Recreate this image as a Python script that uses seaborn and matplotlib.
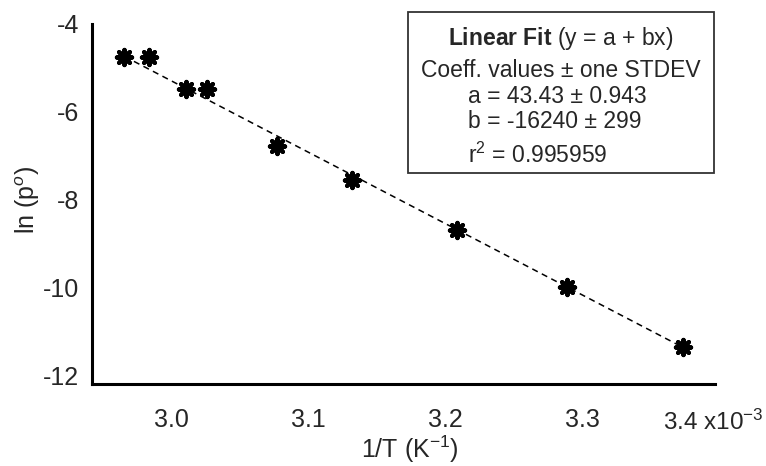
import numpy as np
import matplotlib
matplotlib.use("Agg")
import matplotlib.pyplot as plt
from matplotlib.patches import Rectangle
import seaborn as sns

# --- data (1/T in units of 1e-3 K^-1, ln p) ---
inv_T = [2.966, 2.984, 3.011, 3.026, 3.077, 3.132, 3.209, 3.289, 3.374]
ln_p = [-4.74, -4.74, -5.47, -5.47, -6.77, -7.54, -8.68, -9.98, -11.35]

# fit coefficients from the box
FIT_A = 43.43
FIT_B = -16240
x_ticks = [3.0, 3.1, 3.2, 3.3]
y_ticks = [-4, -6, -8, -10, -12]

W, H = 766, 466
FS = 18
FS_BOX = 16.5


def fx(px):
    return px / W


def fy(py):
    return 1 - py / H


sns.set_style("white")
plt.rcParams["font.family"] = ["Liberation Sans", "DejaVu Sans"]
plt.rcParams["axes.unicode_minus"] = False
plt.rcParams["mathtext.fontset"] = "custom"
plt.rcParams["mathtext.rm"] = "Liberation Sans"
plt.rcParams["mathtext.it"] = "Liberation Sans:italic"
plt.rcParams["mathtext.bf"] = "Liberation Sans:bold"

fig = plt.figure(figsize=(W / 100, H / 100), dpi=100)
ax = fig.add_axes([fx(92), fy(384), (715 - 92) / W, (384 - 24) / H])

# fit line over data range
x_fit = np.array([min(inv_T), max(inv_T)])
y_fit = FIT_A + FIT_B * x_fit * 1e-3
sns.lineplot(x=x_fit, y=y_fit, ax=ax, color="black", lw=1.1)
ax.lines[-1].set_dashes((4, 3))

sns.scatterplot(x=inv_T, y=ln_p, ax=ax, marker=(8, 2, 0), s=120,
                color="black", linewidth=3.0, zorder=3)

ax.set_xlim(2.9423, 3.397)
ax.set_ylim(-12.19, -4)
ax.set_xticks(x_ticks)
ax.set_xticklabels([f"{v:.1f}" for v in x_ticks])
ax.set_yticks(y_ticks)
ax.tick_params(axis="both", length=0, labelsize=FS)
ax.tick_params(axis="x", pad=17)
ax.tick_params(axis="y", pad=9)

sns.despine(ax=ax)
for s in ["left", "bottom"]:
    ax.spines[s].set_linewidth(2.2)
    ax.spines[s].set_color("black")

ax.set_xlabel("1/T (K$^{-1}$)", fontsize=FS)
ax.set_ylabel("ln (p$^{o}$)", fontsize=FS)
ax.xaxis.set_label_coords((410 - 92) / 623, (384 - 434) / 360)
ax.yaxis.set_label_coords((42 - 92) / 623, 0.51)

fig.text(fx(663), fy(430), "3.4 x10$^{-3}$", fontsize=FS - 0.5, va="baseline", ha="left")

# fit result box
fig.patches.append(Rectangle((fx(408), fy(173)), (714 - 408) / W, (173 - 12) / H,
                             transform=fig.transFigure, fill=False,
                             edgecolor="#333333", lw=1.3))
fig.text(fx(561), fy(45), r"$\mathbf{Linear\ Fit}$ (y = a + bx)", fontsize=FS_BOX,
         ha="center", va="baseline")
fig.text(fx(421), fy(77), "Coeff. values \u00b1 one STDEV", fontsize=FS_BOX,
         ha="left", va="baseline")
fig.text(fx(468), fy(103), f"a = {FIT_A:.2f} \u00b1 0.943", fontsize=FS_BOX,
         ha="left", va="baseline")
fig.text(fx(468), fy(128), f"b = {FIT_B} \u00b1 299", fontsize=FS_BOX,
         ha="left", va="baseline")
fig.text(fx(468), fy(163), "r$^{2}$ = 0.995959", fontsize=FS_BOX,
         ha="left", va="baseline")

fig.savefig("out.png", dpi=100)
